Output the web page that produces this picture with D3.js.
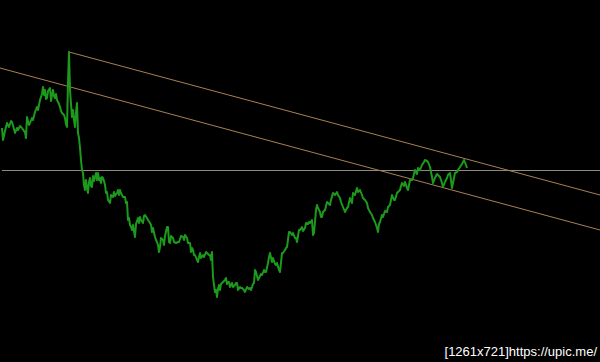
<!DOCTYPE html>
<html>
<head>
<meta charset="utf-8">
<script src="https://cdn.jsdelivr.net/npm/d3@7"></script>
<style>
html,body{margin:0;padding:0;background:#000;}
svg{display:block;}
</style>
</head>
<body>
<script>
// Bar positions (time index) and close prices
const bars = [2,3,5,7,9,11,12,14,15,17,18,20,22,24,25,26,27,29,30,32,33,35,37,38,40,42,43,44,45,46,47,48,50,51,52,53,54,55,56,57,59,60,61,62,64,65,66,67,68,69,70,71,72,73,74,75,76,77,78,79,80,81,82,83,84,85,86,87,88,89,90,91,92,93,94,95,96,97,98,99,100,101,102,103,104,105,106,107,108,110,111,113,114,115,117,118,119,120,121,123,125,126,127,128,129,130,131,132,133,135,136,138,139,140,141,143,144,145,147,148,150,151,152,153,155,156,157,158,159,160,161,163,164,165,167,168,169,170,171,173,174,176,178,179,181,183,184,185,187,188,190,191,192,193,194,195,197,198,199,200,201,203,204,206,207,209,210,211,212,213,214,215,216,217,218,219,220,221,223,225,226,227,228,229,230,232,233,235,236,237,238,240,241,242,244,245,247,249,250,251,253,254,255,256,258,259,261,262,264,265,266,268,269,270,272,273,275,276,277,279,280,282,283,285,286,287,289,290,292,293,295,296,297,299,300,302,303,305,306,308,309,310,312,313,314,316,317,318,320,321,322,323,325,327,328,330,331,333,335,337,338,340,341,343,345,347,348,350,352,353,355,357,358,360,362,363,365,367,368,370,372,373,375,377,378,379,380,382,383,385,387,388,390,392,394,395,397,398,400,401,402,404,405,407,408,410,412,413,415,417,418,420,422,424,425,427,428,430,431,432,433,435,437,439,440,442,443,445,447,448,450,451,452,454,455,457,458,460,462,463,464,466,467];
const closes = [234,222,231,239,235,241,240,233,229,234,232,236,234,231,230,224,245,237,239,244,242,250,255,252,262,268,275,267,272,263,264,271,274,261,267,272,266,264,268,262,258,255,251,249,247,244,238,235,279,310,272,258,245,252,242,235,250,259,229,224,214,202,192,189,177,172,182,174,169,180,184,176,175,186,181,185,189,182,189,182,184,179,185,184,181,177,169,170,162,159,167,165,170,166,169,172,167,172,169,165,165,159,160,142,144,137,135,132,137,125,138,144,139,145,142,139,146,147,144,142,139,137,130,134,125,122,120,117,110,115,124,122,117,126,135,135,120,119,126,124,120,119,120,120,126,125,122,127,124,119,119,110,114,112,107,107,102,100,105,109,104,107,105,110,109,107,107,102,110,85,77,70,72,65,73,77,72,78,80,82,84,78,80,80,75,79,75,77,79,79,72,75,74,74,72,70,75,73,74,72,78,79,92,90,82,84,88,87,92,90,90,99,105,109,100,104,98,97,99,92,90,109,109,112,114,115,130,130,127,129,124,124,120,132,132,135,131,134,139,138,140,139,142,127,129,152,157,154,150,145,145,150,152,160,159,157,162,169,167,170,167,164,160,155,150,154,155,164,159,169,167,174,170,172,167,164,162,159,154,150,147,144,140,134,130,138,140,147,145,151,150,155,157,167,162,162,169,170,172,176,179,176,180,174,172,182,182,184,192,188,194,192,197,200,202,201,200,195,190,185,179,184,188,186,185,179,175,180,184,187,189,182,174,184,189,190,192,195,198,200,202,197,194];

// Channel trend lines and horizontal level (bar, price)
const upperTrend = [[69, 310], [600, 167]];
const lowerTrend = [[0, 294], [600, 132]];
const levelLine = [[2, 191.5], [600, 191.5]];
const caption = "[1261x721]https://upic.me/";

const W = 600, H = 362;
const svg = d3.select("body").append("svg").attr("width", W).attr("height", H)
  .style("background", "#000");

const x = d3.scaleLinear().domain([0, 600]).range([0, W]);
const y = d3.scaleLinear().domain([0, 362]).range([H, 0]);

const line = d3.line().x(d => x(d[0])).y(d => y(d[1]));

svg.append("path").datum(levelLine).attr("d", line)
  .attr("fill", "none").attr("stroke", "#8e8a7c").attr("stroke-width", 1);
svg.append("path").datum(upperTrend).attr("d", line)
  .attr("fill", "none").attr("stroke", "#a98052").attr("stroke-width", 1);
svg.append("path").datum(lowerTrend).attr("d", line)
  .attr("fill", "none").attr("stroke", "#a98052").attr("stroke-width", 1);

const series = bars.map((b, i) => [b, closes[i]]);
svg.append("path").datum(series).attr("d", line)
  .attr("fill", "none").attr("stroke", "#1c9a1c").attr("stroke-width", 2)
  .attr("stroke-linejoin", "round");

svg.append("text").attr("x", 597).attr("y", 356)
  .attr("text-anchor", "end")
  .attr("font-family", "Liberation Sans, Arial, sans-serif")
  .attr("font-size", 13)
  .attr("fill", "#fff")
  .text(caption);
</script>
</body>
</html>
